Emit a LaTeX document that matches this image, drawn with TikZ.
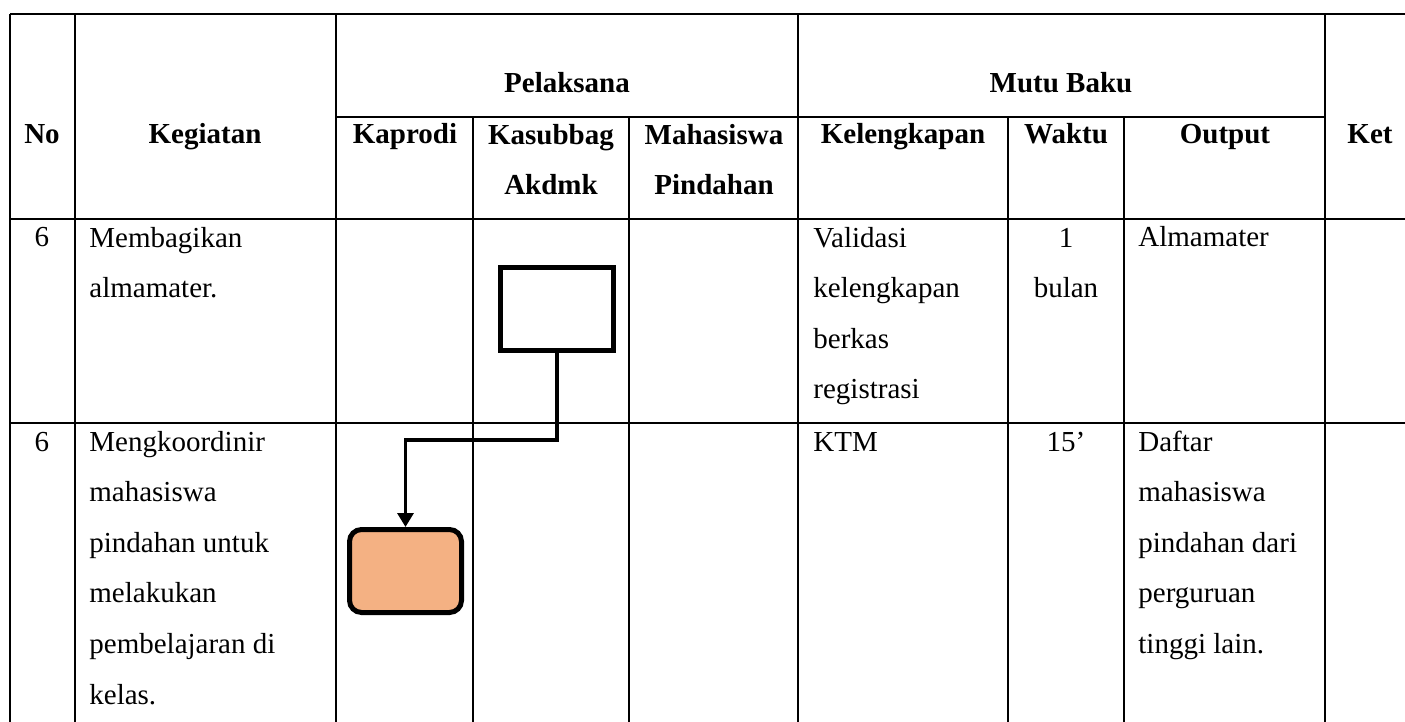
\documentclass[tikz,border=0pt]{standalone}
\usepackage{fontspec}
\setmainfont{Liberation Serif}
\usetikzlibrary{arrows.meta}
\definecolor{oranye}{HTML}{F4B183}

\begin{document}
\begin{tikzpicture}[x=0.5pt, y=-0.5pt,
  garis/.style={line width=0.6pt},
  judul/.style={font=\fontsize{14.5}{25.3}\selectfont\bfseries, anchor=base, align=center, inner sep=0pt},
  isi/.style={font=\fontsize{14.5}{25.3}\selectfont, anchor=base west, align=left, inner sep=0pt},
  tengah/.style={isi, anchor=base, align=center},
  proses/.style={draw, line width=2.4pt, fill=white, minimum width=56.5pt, minimum height=41.5pt, inner sep=0pt},
  akhir/.style={draw, line width=2.5pt, fill=oranye, rounded corners=6pt, minimum width=56pt, minimum height=41.5pt, inner sep=0pt},
  alur/.style={line width=1.65pt, -{Triangle[width=8pt, length=7pt]}}]

\useasboundingbox (0,0) rectangle (1405,722);

\foreach \x in {10,75,336,798,1325} \draw[garis] (\x,14)--(\x,722);
\foreach \x in {473,629,1008,1124} \draw[garis] (\x,117)--(\x,722);
\draw[garis] (10,14)--(1405,14);
\draw[garis] (336,117)--(1325,117);
\draw[garis] (10,219)--(1405,219);
\draw[garis] (10,423)--(1405,423);

% multi-line nodes sit on the baseline of their last line
\node[judul] (pelaksana) at (567,93) {Pelaksana};
\node[judul] (mutubaku) at (1061,93) {Mutu Baku};
\node[judul] (no) at (42,144) {No};
\node[judul] (kegiatan) at (205,144) {Kegiatan};
\node[judul] (kaprodi) at (405,144) {Kaprodi};
\node[judul] (kasubbag) at (551,194.6) {Kasubbag\\Akdmk};
\node[judul] (mhs) at (714,194.6) {Mahasiswa\\Pindahan};
\node[judul] (kelengkapan) at (903,144) {Kelengkapan};
\node[judul] (waktu) at (1066,144) {Waktu};
\node[judul] (output) at (1225,144) {Output};
\node[judul] (ket) at (1370,144) {Ket};

\node[tengah] (noA) at (42,247) {6};
\node[isi] (kegA) at (89,297.6) {Membagikan\\almamater.};
\node[isi] (lengA) at (813,398.8) {Validasi\\kelengkapan\\berkas\\registrasi};
\node[tengah] (waktuA) at (1066,297.6) {1\\bulan};
\node[isi] (outA) at (1138,247) {Almamater};

\node[tengah] (noB) at (42,451) {6};
\node[isi] (kegB) at (89,704) {Mengkoordinir\\mahasiswa\\pindahan untuk\\melakukan\\pembelajaran di\\kelas.};
\node[isi] (lengB) at (813,451) {KTM};
\node[tengah] (waktuB) at (1066,451) {15’};
\node[isi] (outB) at (1138,653.4) {Daftar\\mahasiswa\\pindahan dari\\perguruan\\tinggi lain.};

\node[proses] (proses) at (557,309) {};
\node[akhir] (selesai) at (405.5,571) {};

\coordinate (belok) at (0,440);
\draw[alur] (proses.south) -- (proses.south |- belok) -| (selesai.north);

\end{tikzpicture}
\end{document}
